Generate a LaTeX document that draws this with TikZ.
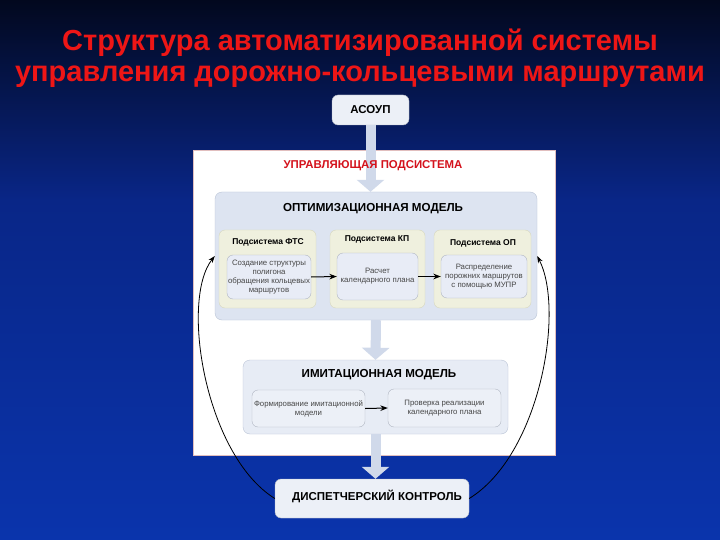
\documentclass[tikz,border=0pt]{standalone}
\usepackage{fontspec}
\setmainfont{Liberation Sans}
\usetikzlibrary{
  arrows.meta,
  positioning
}
\definecolor{bgtop}{RGB}{2,8,30}
\definecolor{bgmid}{RGB}{9,38,135}
\definecolor{bgbot}{RGB}{10,52,172}
\definecolor{titlered}{RGB}{238,22,22}
\definecolor{sysred}{RGB}{212,18,28}
\definecolor{panelline}{RGB}{225,190,190}
\definecolor{modelbg}{RGB}{221,228,241}
\definecolor{modelline}{RGB}{186,196,214}
\definecolor{subbg}{RGB}{239,240,222}
\definecolor{subline}{RGB}{214,215,190}
\definecolor{innerbg}{RGB}{232,236,246}
\definecolor{innerline}{RGB}{176,182,194}
\definecolor{boxbg}{RGB}{236,240,247}
\definecolor{flowcolor}{RGB}{208,217,234}
\definecolor{textgray}{RGB}{70,70,70}

\begin{document}
\begin{tikzpicture}[x=1pt, y=-1pt, >=Stealth,
  topbox/.style={fill=boxbg, draw=innerline, rounded corners=6pt,
    font=\fontsize{11.5}{13}\selectfont\bfseries},
  model/.style={fill=modelbg, draw=modelline, rounded corners=7pt},
  subsys/.style={fill=subbg, draw=subline, rounded corners=6pt},
  inner/.style={fill=innerbg, draw=innerline, rounded corners=6pt, align=center,
    inner sep=1pt, text=textgray, font=\fontsize{7.8}{8.8}\selectfont},
  heading/.style={font=\fontsize{11.6}{13}\selectfont\bfseries},
  subhead/.style={font=\fontsize{8.5}{10}\selectfont\bfseries},
  flow/.style={flowcolor, line width=10pt, -{Triangle[width=27pt,length=12pt]}},
  link/.style={->, line width=1pt},
  loopback/.style={-{Stealth[length=7pt,width=5pt]}, line width=0.8pt}]

  % -- background --
  \useasboundingbox (0,0) rectangle (720,540);
  \shade[top color=bgtop, bottom color=bgmid] (0,0) rectangle (720,200);
  \shade[top color=bgmid, bottom color=bgbot] (0,199.5) rectangle (720,540);

  % -- title --
  \node[font=\fontsize{29}{31}\selectfont\bfseries, align=center, titlered]
    (title) at (360,58)
    {Структура автоматизированной системы\\управления дорожно-кольцевыми маршрутами};

  % -- control subsystem panel --
  \fill[white, draw=panelline] (193,150) rectangle (555,455);

  % -- boxes --
  \node[topbox, minimum width=77pt, minimum height=30pt] (asoup) at (370.5,110) {АСОУП};
  \node[model, minimum width=322pt, minimum height=128pt] (opt) at (376,256) {};
  \node[model, fill=modelbg!70, minimum width=265pt, minimum height=74pt] (imit) at (375.5,397) {};
  \node[topbox, minimum width=194pt, minimum height=39pt, text depth=6pt] (disp) at (372,498.5)
    {\hspace*{10pt}ДИСПЕТЧЕРСКИЙ КОНТРОЛЬ};

  % -- flows between levels --
  \draw[flow] (asoup.south) -- (asoup.south |- opt.north);
  \draw[flow] (opt.south) -- (imit.north);
  \draw[flow] (imit.south) -- (imit.south |- disp.north);

  \node[font=\fontsize{11.4}{13}\selectfont\bfseries, sysred] (upr) at (373,166)
    {УПРАВЛЯЮЩАЯ ПОДСИСТЕМА};

  % -- optimisation model --
  \node[heading] (optname) at (373,209) {ОПТИМИЗАЦИОННАЯ МОДЕЛЬ};
  \node[subsys, minimum width=97pt, minimum height=78pt] (fts) at (267.5,269) {};
  \node[subsys, minimum width=95pt, minimum height=78pt] (kp) at (377.5,269) {};
  \node[subsys, minimum width=97pt, minimum height=78pt] (op) at (482.5,269) {};
  \node[subhead] (ftsname) at (268,242) {Подсистема ФТС};
  \node[subhead] (kpname) at (377,239) {Подсистема КП};
  \node[subhead] (opname) at (483,243) {Подсистема ОП};
  \node[inner, minimum width=84pt, minimum height=44pt] (ftsin) at (269,277)
    {Создание структуры\\полигона\\обращения кольцевых\\маршрутов};
  \node[inner, minimum width=81pt, minimum height=47pt] (kpin) at (377.5,276.5)
    {Расчет\\календарного плана};
  \node[inner, minimum width=86pt, minimum height=43pt] (opin) at (484,276.5)
    {Распределение\\порожних маршрутов\\с помощью МУПР};
  \draw[link] (ftsin.east) -- (kpin.west);
  \draw[link] (kpin.east) -- (opin.west);

  % -- imitation model --
  \node[heading] (imitname) at (379,375) {ИМИТАЦИОННАЯ МОДЕЛЬ};
  \node[inner, fill=boxbg, minimum width=113pt, minimum height=37pt] (form) at (308.5,408.5)
    {Формирование имитационной\\модели};
  \node[inner, fill=boxbg, minimum width=113pt, minimum height=38pt] (check) at (444.5,408)
    {Проверка реализации\\календарного плана};
  \draw[link] (form.east) -- (check.west);

  % -- feedback from dispatcher control --
  \draw[loopback] (disp.west) .. controls (205,455) and (180,300) .. (opt.west);
  \draw[loopback] (disp.east) .. controls (540,455) and (565,310) .. (opt.east);

\end{tikzpicture}
\end{document}
